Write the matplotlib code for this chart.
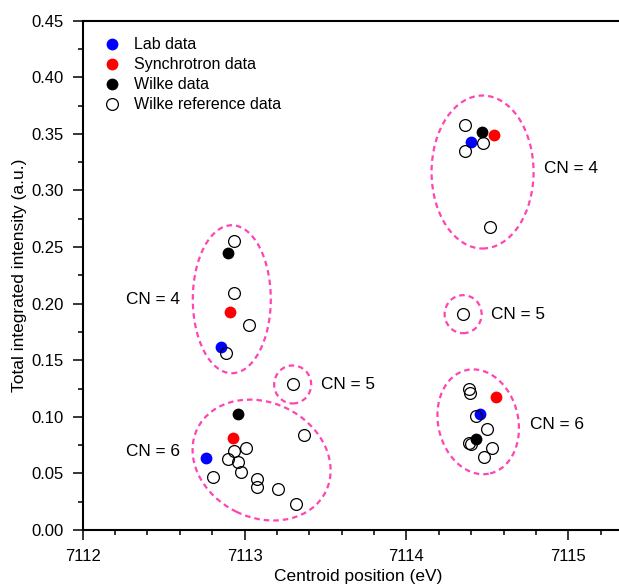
import matplotlib
matplotlib.use("Agg")
import matplotlib.pyplot as plt
from matplotlib.patches import Ellipse
from matplotlib.transforms import ScaledTranslation
from matplotlib.ticker import MultipleLocator, FormatStrFormatter

plt.rcParams["font.family"] = ["Liberation Sans", "DejaVu Sans"]

# centroid position (eV) / total integrated intensity (a.u.)
lab_x = [7112.852, 7112.759, 7114.398, 7114.452]
lab_y = [0.1620, 0.0634, 0.3426, 0.1022]

sync_x = [7112.908, 7112.928, 7114.541, 7114.551]
sync_y = [0.1929, 0.0816, 0.3487, 0.1178]

wilke_x = [7112.897, 7112.959, 7114.467, 7114.432]
wilke_y = [0.2445, 0.1022, 0.3519, 0.0801]

ref_x = [7112.934, 7112.934, 7113.027, 7112.887,
         7113.297,
         7113.367, 7113.007, 7112.934, 7112.897, 7112.959, 7112.976, 7112.804,
         7113.077, 7113.077, 7113.207, 7113.317,
         7114.359, 7114.471, 7114.359, 7114.516,
         7114.349,
         7114.386, 7114.390, 7114.432, 7114.500, 7114.386, 7114.401, 7114.531,
         7114.479]
ref_y = [0.2556, 0.2094, 0.1811, 0.1567,
         0.1290,
         0.0839, 0.0722, 0.0701, 0.0627, 0.0603, 0.0515, 0.0466,
         0.0451, 0.0377, 0.0362, 0.0230,
         0.3576, 0.3417, 0.3349, 0.2680,
         0.1908,
         0.1246, 0.1208, 0.1007, 0.0890, 0.0766, 0.0760, 0.0722,
         0.0648]

# dashed groups: centre (data), width/height (px), angle, label, label position
groups = [
    (7112.921, 0.2039, 78, 148, 0, "CN = 4", 7112.267, 0.2041),
    (7113.297, 0.1286, 37, 38, 0, "CN = 5", 7113.470, 0.1290),
    (7113.105, 0.0618, 143, 115, -26, "CN = 6", 7112.267, 0.0692),
    (7114.470, 0.3163, 102, 153, 0, "CN = 4", 7114.847, 0.3196),
    (7114.350, 0.1907, 37, 38, 0, "CN = 5", 7114.520, 0.1908),
    (7114.443, 0.0956, 80, 106, 13, "CN = 6", 7114.764, 0.0928),
]

fig = plt.figure(figsize=(6.19, 5.85), dpi=100)
# axes run past the right edge of the picture, as in the original
ax = fig.add_axes([0.1336, 0.094, 0.8892, 0.8706])

ms = 8.5
ax.plot(lab_x, lab_y, "o", color="#0000ff", ms=ms, mew=0, label="Lab data")
ax.plot(sync_x, sync_y, "o", color="#ff0000", ms=ms, mew=0, label="Synchrotron data")
ax.plot(wilke_x, wilke_y, "o", color="black", ms=ms, mew=0, label="Wilke data")
ax.plot(ref_x, ref_y, "o", mfc="none", mec="black", ms=ms, mew=0.9,
        label="Wilke reference data")

for cx, cy, w, h, ang, txt, tx, ty in groups:
    tr = fig.dpi_scale_trans + ScaledTranslation(cx, cy, ax.transData)
    e = Ellipse((0, 0), w / 100, h / 100, angle=ang, transform=tr,
                fill=False, edgecolor="#ff44b4", lw=1.6, ls=(0, (2.5, 1.8)))
    ax.add_patch(e)
    ax.text(tx, ty, txt, ha="left", va="center", fontsize=12.4)

ax.set_xlim(7112, 7115.4)
ax.set_ylim(0, 0.45)
ax.xaxis.set_major_locator(MultipleLocator(1))
ax.xaxis.set_minor_locator(MultipleLocator(0.2))
ax.yaxis.set_major_locator(MultipleLocator(0.05))
ax.yaxis.set_minor_locator(MultipleLocator(0.025))
ax.yaxis.set_major_formatter(FormatStrFormatter("%.2f"))
ax.tick_params(which="major", direction="out", length=7, width=1.1, labelsize=12)
ax.tick_params(which="minor", direction="out", length=3.6, width=1.1)
ax.tick_params(axis="x", which="major", pad=7)
ax.tick_params(axis="y", which="major", pad=6.5)
for s in ax.spines.values():
    s.set_linewidth(1.5)

ax.set_xlabel("Centroid position (eV)", fontsize=12.5, labelpad=3)
ax.set_ylabel("Total integrated intensity (a.u.)", fontsize=12.5, labelpad=3.5)

ax.legend(loc="upper left", bbox_to_anchor=(0.0135, 0.996), frameon=False,
          fontsize=11.5, handlelength=1.0, handletextpad=0.875, labelspacing=0.32,
          borderaxespad=0.5)

fig.savefig("out.png", dpi=100)
